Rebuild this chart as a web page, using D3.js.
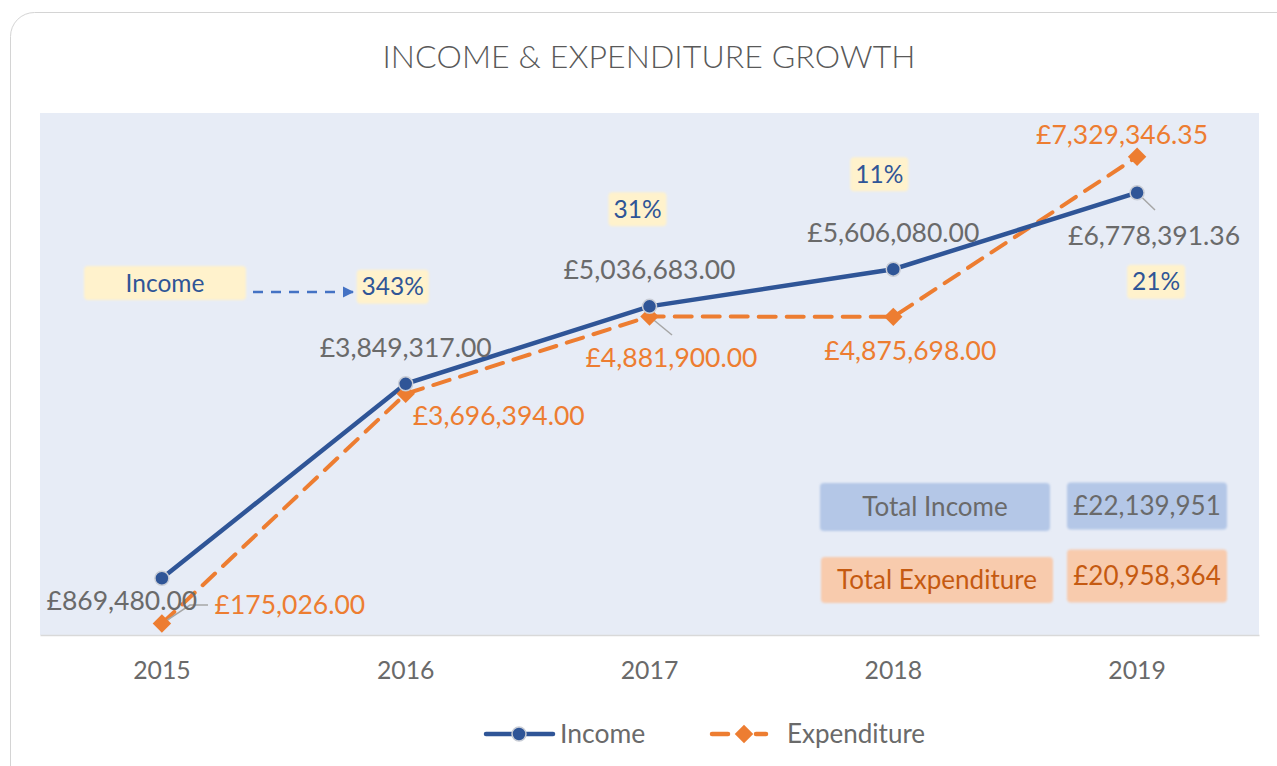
<!DOCTYPE html>
<html><head><meta charset="utf-8">
<script src="https://cdn.jsdelivr.net/npm/d3@7/dist/d3.min.js"></script>
<style>
html,body{margin:0;padding:0;background:#fff;}
svg text{font-family:Lato,"Open Sans",sans-serif;}
</style></head>
<body><svg id="c" width="1277" height="766"></svg>
<script>
const years = ["2015","2016","2017","2018","2019"];
const income = [869480.00, 3849317.00, 5036683.00, 5606080.00, 6778391.36];
const expenditure = [175026.00, 3696394.00, 4881900.00, 4875698.00, 7329346.35];
const yTicks = [0, 8000000];
const titleText = "INCOME & EXPENDITURE GROWTH";

// layout (label offsets in px)
const incLabelOff = [[-40,22],[0,-36],[0,-37],[0,-36],[17,43]];
const expLabelOff = [[128,-19],[93,22],[22,41],[17,34],[-15,-22]];
const pctBoxPos = [[-13,-97],[-12,-97],[-14,-95],[19,89]]; // relative to x of later year, y of income
const C = {inc:"#2F5597", exp:"#ED7D31", grey:"#6a6a6a", plot:"#E7ECF6", yellow:"#FFF2CC", pctText:"#2F5597"};

const svg = d3.select("#c");
const defs = svg.append("defs");
const f = defs.append("filter").attr("id","soft").attr("x","-10%").attr("y","-20%").attr("width","120%").attr("height","140%");
f.append("feGaussianBlur").attr("stdDeviation",1.3);
defs.append("marker").attr("id","arr").attr("viewBox","0 0 10 10").attr("refX",9).attr("refY",5)
  .attr("markerWidth",4.5).attr("markerHeight",4.5).attr("markerUnits","strokeWidth").attr("orient","auto")
  .append("path").attr("d","M0,0L10,5L0,10Z").attr("fill","#4472C4");

// card
svg.append("rect").attr("x",10.5).attr("y",12.5).attr("width",1300).attr("height",800).attr("rx",24)
  .attr("fill","#fff").attr("stroke","#d4d4d4").attr("stroke-width",1);

svg.append("text").attr("x",649).attr("y",68).attr("text-anchor","middle")
  .attr("font-size",32).attr("font-weight",300).attr("fill","#595959").attr("letter-spacing",0.1).text(titleText);

const plot = {l:40, r:1259, t:113, b:635};
svg.append("rect").attr("x",plot.l).attr("y",plot.t).attr("width",plot.r-plot.l).attr("height",plot.b-plot.t).attr("fill",C.plot);

const x = d3.scaleBand().domain(years).range([plot.l, plot.r]);
const xc = d => x(d) + x.bandwidth()/2;
const y = d3.scaleLinear().domain(d3.extent(yTicks)).range([plot.b, plot.t]);

// x axis
const ax = svg.append("g").attr("transform",`translate(0,${plot.b})`).call(d3.axisBottom(x).tickSize(0).tickPadding(26));
ax.select(".domain").attr("stroke","#d9d9d9").attr("stroke-width",1.5);
ax.selectAll("text").attr("font-size",24.8).attr("fill",C.grey).attr("font-family","Lato");

// lines
const line = d3.line().x((d,i)=>xc(years[i])).y(d=>y(d));
svg.append("path").datum(expenditure).attr("d",line).attr("fill","none").attr("stroke",C.exp)
  .attr("stroke-width",4).attr("stroke-dasharray","17,11").attr("stroke-linecap","round");
svg.append("path").datum(income).attr("d",line).attr("fill","none").attr("stroke",C.inc).attr("stroke-width",4.5);

// leader lines
const leaders = [
  {s:"exp", i:0, to:[190,605], to2:[208,605]},
  {s:"exp", i:2, to:[672,335]},
  {s:"inc", i:4, to:[1155,210]}
];
leaders.forEach(L=>{
  const v = L.s==="inc"?income[L.i]:expenditure[L.i];
  const px = xc(years[L.i]), py = y(v);
  const pts = [[px,py],L.to].concat(L.to2?[L.to2]:[]);
  svg.append("path").attr("d",d3.line()(pts)).attr("fill","none").attr("stroke","#a6a6a6").attr("stroke-width",1.5);
});

// markers
svg.selectAll(".dm").data(expenditure).join("path").attr("class","dm")
  .attr("d",d3.symbol().type(d3.symbolSquare).size(170))
  .attr("transform",(d,i)=>`translate(${xc(years[i])},${y(d)}) rotate(45)`).attr("fill",C.exp);
svg.selectAll(".cm").data(income).join("circle").attr("class","cm")
  .attr("cx",(d,i)=>xc(years[i])).attr("cy",d=>y(d)).attr("r",7).attr("fill",C.inc)
  .attr("stroke","#c9cdd6").attr("stroke-width",1.5);

const money = v => "£" + d3.format(",.2f")(v);
// labels
svg.selectAll(".il").data(income).join("text").attr("class","il")
  .attr("x",(d,i)=>xc(years[i])+incLabelOff[i][0]).attr("y",(d,i)=>y(d)+incLabelOff[i][1])
  .attr("dy","0.35em").attr("text-anchor","middle").attr("font-size",26.5).attr("fill",C.grey).text(money);
svg.selectAll(".el").data(expenditure).join("text").attr("class","el")
  .attr("x",(d,i)=>xc(years[i])+expLabelOff[i][0]).attr("y",(d,i)=>y(d)+expLabelOff[i][1])
  .attr("dy","0.35em").attr("text-anchor","middle").attr("font-size",26.5).attr("fill",C.exp).text(money);

// box helper
function box(cx, cy, w, h, fill, txt, color, fs){
  const g = svg.append("g");
  g.append("rect").attr("x",cx-w/2).attr("y",cy-h/2).attr("width",w).attr("height",h).attr("rx",4)
    .attr("fill",fill).attr("filter","url(#soft)");
  g.append("text").attr("x",cx).attr("y",cy).attr("dy","0.35em").attr("text-anchor","middle")
    .attr("font-size",fs).attr("fill",color).text(txt);
}

// growth boxes
const growth = income.slice(1).map((v,i)=>(v-income[i])/income[i]);
box(165,283,162,34,C.yellow,"Income",C.pctText,24.5);
svg.append("line").attr("x1",253).attr("y1",292).attr("x2",353).attr("y2",292)
  .attr("stroke","#4472C4").attr("stroke-width",2.5).attr("stroke-dasharray","10,8").attr("marker-end","url(#arr)");
growth.forEach((g,i)=>{
  const w = d3.format(".0%")(g).length>3?72:58;
  box(xc(years[i+1])+pctBoxPos[i][0], y(income[i+1])+pctBoxPos[i][1], w, 34, C.yellow, d3.format(".0%")(g), C.pctText, 24.5);
});

// totals
const totInc = d3.sum(income), totExp = d3.sum(expenditure);
const tf = v => "£" + d3.format(",")(Math.floor(v));
box(935,507,230,48,"#B4C7E7","Total Income",C.grey,26);
box(1147,506,160,47,"#B4C7E7",tf(totInc),C.grey,26);
box(937,580,232,46,"#F8CBAD","Total Expenditure","#C55A11",26);
box(1147,576,160,53,"#F8CBAD",tf(totExp),"#C55A11",26);

// legend
const lg = svg.append("g");
lg.append("line").attr("x1",486).attr("x2",553).attr("y1",734).attr("y2",734).attr("stroke",C.inc).attr("stroke-width",4.5).attr("stroke-linecap","round");
lg.append("circle").attr("cx",519).attr("cy",734).attr("r",7).attr("fill",C.inc).attr("stroke","#c9cdd6").attr("stroke-width",1.5);
lg.append("text").attr("x",560).attr("y",734).attr("dy","0.35em").attr("font-size",26.5).attr("fill",C.grey).text("Income");
lg.append("line").attr("x1",712).attr("x2",728).attr("y1",734).attr("y2",734).attr("stroke",C.exp).attr("stroke-width",4.5).attr("stroke-linecap","round");
lg.append("line").attr("x1",756).attr("x2",766).attr("y1",734).attr("y2",734).attr("stroke",C.exp).attr("stroke-width",4.5).attr("stroke-linecap","round");
lg.append("path").attr("d",d3.symbol().type(d3.symbolSquare).size(170)).attr("transform","translate(744,734) rotate(45)").attr("fill",C.exp);
lg.append("text").attr("x",787).attr("y",734).attr("dy","0.35em").attr("font-size",26).attr("fill",C.grey).text("Expenditure");
</script></body></html>
